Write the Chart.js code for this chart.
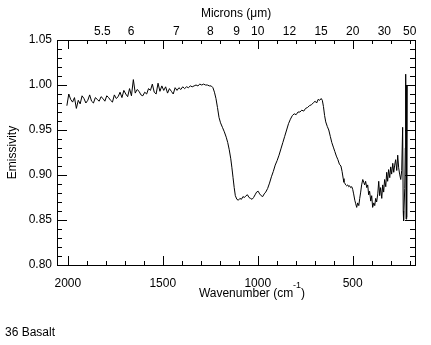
<!DOCTYPE html>
<html>
<head>
<meta charset="utf-8">
<script src="https://cdn.jsdelivr.net/npm/chart.js@4/dist/chart.umd.min.js"></script>
<style>
  html, body { margin: 0; padding: 0; background: #fff; }
  canvas { display: block; }
</style>
</head>
<body>
<canvas id="chartBasalt" width="431" height="345"></canvas>
<script>
// sample label + axis ranges
const sampleName = "36 Basalt";
const xMin = 172;
const xMax = 2057;
const yMin = 0.80;
const yMax = 1.05;

const waveTicks = [2000, 1500, 1000, 500];
const micronTicks = [5.5, 6, 7, 8, 9, 10, 12, 15, 20, 30, 50];
const emisTicks = [0.80, 0.85, 0.90, 0.95, 1.00, 1.05];

// noisy plateau, high wavenumbers
const wnHigh = [2005, 1995, 1985, 1975, 1965, 1955, 1945, 1935, 1925, 1915,
  1905, 1895, 1885, 1875, 1865, 1855, 1845, 1835, 1825, 1815,
  1805, 1795, 1785, 1775, 1765, 1755, 1745, 1735, 1725, 1715,
  1705, 1695, 1685, 1675, 1665, 1655, 1645, 1635, 1625, 1615,
  1605, 1595, 1585, 1575, 1565, 1555, 1545, 1535, 1525, 1515,
  1505, 1495, 1485, 1475, 1465, 1455, 1445, 1435, 1425, 1415,
  1405, 1395, 1385, 1375, 1365, 1355, 1345, 1335, 1325, 1315,
  1305, 1295, 1285, 1275, 1265, 1255];
const emHigh = [0.977, 0.990, 0.984, 0.981, 0.986, 0.974, 0.983, 0.979, 0.988, 0.985,
  0.980, 0.983, 0.989, 0.982, 0.980, 0.986, 0.984, 0.982, 0.987, 0.985,
  0.982, 0.988, 0.986, 0.983, 0.981, 0.989, 0.985, 0.987, 0.992, 0.986,
  0.994, 0.990, 0.987, 0.996, 0.988, 1.006, 0.991, 0.995, 0.993, 0.989,
  0.988, 0.992, 0.990, 0.996, 0.994, 1.001, 0.992, 0.990, 1.002, 0.993,
  0.999, 0.994, 0.998, 0.991, 0.996, 0.993, 0.990, 0.997, 0.994, 0.997,
  0.995, 0.998, 0.996, 0.998, 0.997, 0.999, 0.998, 0.999, 1.000, 0.999,
  1.001, 1.000, 1.001, 1.000, 1.000, 0.999];

// main absorption band and the 650 peak
const wnMid = [1245, 1236, 1228, 1220, 1212, 1204, 1196, 1186, 1176, 1166,
  1158, 1150, 1142, 1136, 1130, 1124, 1118, 1110, 1102, 1094,
  1086, 1078, 1070, 1062, 1054, 1046, 1038, 1030, 1022, 1014,
  1006, 998, 990, 982, 974, 966, 958, 948, 938, 928,
  918, 908, 898, 888, 878, 868, 858, 848, 838, 828,
  818, 808, 798, 788, 778, 768, 758, 748, 738, 728,
  718, 708, 698, 690, 682, 674, 666, 660, 654, 648,
  642, 634, 626, 618, 610, 602, 594, 586, 578, 570,
  562, 556, 550, 546];
const emMid = [0.999, 0.997, 0.992, 0.985, 0.975, 0.964, 0.958, 0.953, 0.948, 0.942,
  0.936, 0.928, 0.918, 0.908, 0.897, 0.886, 0.877, 0.873, 0.872, 0.874,
  0.873, 0.876, 0.875, 0.877, 0.878, 0.875, 0.874, 0.873, 0.875, 0.878,
  0.881, 0.882, 0.879, 0.877, 0.876, 0.879, 0.881, 0.885, 0.891, 0.898,
  0.904, 0.911, 0.916, 0.922, 0.929, 0.936, 0.943, 0.950, 0.957, 0.962,
  0.966, 0.968, 0.967, 0.970, 0.970, 0.972, 0.971, 0.974, 0.975, 0.977,
  0.978, 0.980, 0.982, 0.980, 0.984, 0.983, 0.985, 0.983, 0.976, 0.966,
  0.959, 0.954, 0.950, 0.943, 0.936, 0.931, 0.926, 0.921, 0.917, 0.912,
  0.910, 0.904, 0.896, 0.892];

// noisy low wavenumber end
const wnLow = [542, 537, 532, 526, 521, 516, 511, 505, 500, 495,
  489, 484, 479, 474, 468, 463, 458, 453, 447, 442,
  437, 432, 426, 421, 416, 411, 405, 400, 395, 389,
  384, 379, 374, 368, 363, 358, 353, 347, 342, 337,
  332, 326, 321, 316, 311, 305, 300, 295, 289, 284,
  279, 274, 268, 263, 258, 253, 247, 242, 237, 234,
  232, 226, 223, 221, 219, 217, 215, 213];
const emLow = [0.891, 0.889, 0.888, 0.889, 0.887, 0.888, 0.886, 0.887, 0.884, 0.879,
  0.872, 0.868, 0.864, 0.869, 0.866, 0.874, 0.881, 0.889, 0.895, 0.892,
  0.889, 0.893, 0.886, 0.889, 0.878, 0.882, 0.871, 0.877, 0.864, 0.869,
  0.866, 0.874, 0.870, 0.879, 0.893, 0.877, 0.886, 0.874, 0.889, 0.881,
  0.895, 0.887, 0.903, 0.893, 0.906, 0.897, 0.909, 0.901, 0.913, 0.903,
  0.911, 0.917, 0.905, 0.922, 0.908, 0.901, 0.895, 0.905, 0.953, 0.860,
  0.849, 0.885, 0.930, 1.012, 0.851, 0.999, 0.853, 1.000];

const wavenumbers = [...wnHigh, ...wnMid, ...wnLow];
const emissivity = [...emHigh, ...emMid, ...emLow];

Chart.defaults.font.family = '"Liberation Sans", Arial, sans-serif';
Chart.defaults.font.size = 12;
Chart.defaults.color = "#000";

// IDL style ticks pointing into the plot on all four sides
const inwardTicks = {
  id: "inwardTicks",
  afterDraw(chart) {
    const { ctx, chartArea: a, scales: { x, y } } = chart;
    ctx.save();
    ctx.strokeStyle = "#000";
    ctx.lineWidth = 1;
    ctx.beginPath();
    for (let w = 200; w <= 2000; w += 100) {
      const px = Math.round(x.getPixelForValue(w)) + 0.5;
      const len = w % 500 === 0 ? 9 : 4;
      ctx.moveTo(px, a.bottom);
      ctx.lineTo(px, a.bottom - len);
      ctx.moveTo(px, a.top);
      ctx.lineTo(px, a.top + len);
    }
    for (let k = 0; k <= 25; k++) {
      const py = Math.round(y.getPixelForValue(yMin + k * 0.01)) + 0.5;
      const len = k % 5 === 0 ? 10 : 5;
      ctx.moveTo(a.left, py);
      ctx.lineTo(a.left + len, py);
      ctx.moveTo(a.right, py);
      ctx.lineTo(a.right - len, py);
    }
    ctx.stroke();
    ctx.restore();
  },
};

// bottom axis title with a raised exponent, and the sample name
const extraText = {
  id: "extraText",
  afterDraw(chart) {
    const { ctx } = chart;
    ctx.save();
    ctx.fillStyle = "#000";
    ctx.textBaseline = "alphabetic";
    ctx.textAlign = "left";
    const big = '12px "Liberation Sans", Arial, sans-serif';
    const small = '9px "Liberation Sans", Arial, sans-serif';
    ctx.font = big;
    const w1 = ctx.measureText("Wavenumber (cm").width;
    const w3 = ctx.measureText(")").width;
    ctx.font = small;
    const w2 = ctx.measureText("-1").width;
    let tx = 252 - (w1 + w2 + w3) / 2;
    ctx.font = big;
    ctx.fillText("Wavenumber (cm", tx, 297);
    ctx.font = small;
    ctx.fillText("-1", tx + w1, 288);
    ctx.font = big;
    ctx.fillText(")", tx + w1 + w2, 297);
    ctx.fillText(sampleName, 5, 336);
    ctx.restore();
  },
};

const ctx = document.getElementById("chartBasalt").getContext("2d");
new Chart(ctx, {
  type: "line",
  data: {
    datasets: [
      {
        data: wavenumbers.map((w, i) => ({ x: w, y: emissivity[i] })),
        borderColor: "#000",
        borderWidth: 1,
        pointRadius: 0,
        tension: 0,
        fill: false,
        xAxisID: "x",
        yAxisID: "y",
      },
    ],
  },
  options: {
    responsive: false,
    devicePixelRatio: 1,
    animation: false,
    layout: { padding: 0 },
    plugins: {
      legend: { display: false },
      tooltip: { enabled: false },
    },
    scales: {
      x: {
        type: "linear",
        position: "bottom",
        reverse: true,
        min: xMin,
        max: xMax,
        grid: { display: false, drawTicks: false },
        border: { display: true, color: "#000", width: 1 },
        ticks: {
          padding: 11,
          maxRotation: 0,
          autoSkip: false,
          callback: (v) => String(v),
        },
        afterBuildTicks: (s) => {
          s.ticks = waveTicks.map((v) => ({ value: v }));
        },
        afterFit: (s) => {
          s.height = 80;
        },
      },
      xTop: {
        type: "linear",
        position: "top",
        reverse: true,
        min: xMin,
        max: xMax,
        grid: { display: false, drawTicks: false },
        border: { display: true, color: "#000", width: 1 },
        ticks: {
          padding: 1,
          maxRotation: 0,
          autoSkip: false,
          callback: (v, i) => String(micronTicks[i]),
        },
        title: {
          display: true,
          text: "Microns (μm)",
          padding: { top: 6, bottom: 0 },
        },
        afterBuildTicks: (s) => {
          s.ticks = micronTicks.map((m) => ({ value: 10000 / m }));
        },
        afterFit: (s) => {
          s.height = 40;
        },
      },
      y: {
        type: "linear",
        position: "left",
        min: yMin,
        max: yMax,
        grid: { display: false, drawTicks: false },
        border: { display: true, color: "#000", width: 1 },
        ticks: { padding: 5, callback: (v) => v.toFixed(2) },
        title: {
          display: true,
          text: "Emissivity",
          padding: { top: 5, bottom: 0 },
        },
        afterBuildTicks: (s) => {
          s.ticks = emisTicks.map((v) => ({ value: v }));
        },
        afterFit: (s) => {
          s.width = 57;
        },
      },
      y2: {
        type: "linear",
        position: "right",
        min: yMin,
        max: yMax,
        grid: { display: false, drawTicks: false },
        border: { display: true, color: "#000", width: 1 },
        ticks: { display: false },
        afterFit: (s) => {
          s.width = 16;
        },
      },
    },
  },
  plugins: [inwardTicks, extraText],
});
</script>
</body>
</html>
